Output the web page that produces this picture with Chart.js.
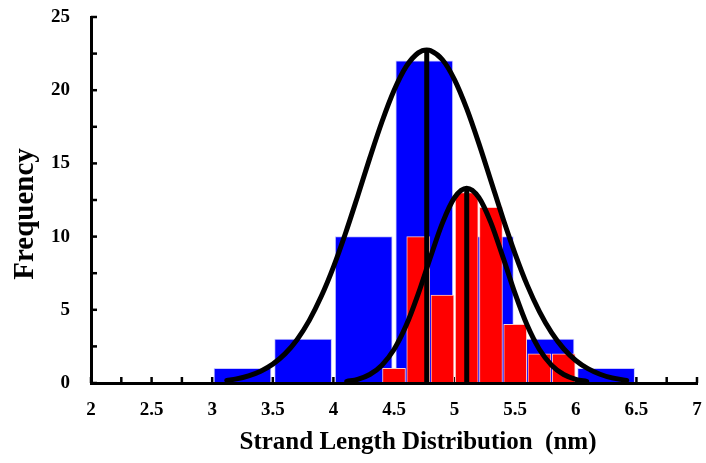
<!DOCTYPE html>
<html><head><meta charset="utf-8">
<script src="https://cdn.jsdelivr.net/npm/chart.js@4/dist/chart.umd.min.js"></script>
<style>html,body{margin:0;padding:0;background:#fff;}canvas{display:block;}</style>
</head><body>
<canvas id="c" width="706" height="463"></canvas>
<script>
// Histogram 1 (blue): bin centres and counts
const blueCenters = [3.25, 3.75, 4.25, 4.75, 5.25, 5.75, 6.25];
const blueCounts  = [1, 3, 10, 22, 10, 3, 1];
// Histogram 2 (red): bin centres and counts
const redCenters = [4.5, 4.7, 4.9, 5.1, 5.3, 5.5, 5.7, 5.9];
const redCounts  = [1, 10, 6, 13, 12, 4, 2, 2];
// Fitted curve 1
const blueFitX = [3.12,3.2,3.3,3.4,3.5,3.6,3.7,3.8,3.9,4.0,4.1,4.2,4.3,4.4,4.5,4.6,4.7,4.77,4.8,4.9,5.0,5.1,5.2,5.3,5.4,5.5,5.6,5.7,5.8,5.9,6.0,6.1,6.2,6.3,6.42];
const blueFitY = [0.18,0.28,0.49,0.81,1.29,1.99,2.96,4.26,5.92,7.92,10.23,12.76,15.36,17.83,19.98,21.61,22.55,22.75,22.71,22.08,20.71,18.74,16.37,13.80,11.22,8.81,6.67,4.88,3.44,2.34,1.54,0.98,0.60,0.35,0.18];
// Fitted curve 2
const redFitX = [4.11,4.2,4.3,4.4,4.5,4.6,4.7,4.8,4.9,5.0,5.1,5.2,5.3,5.4,5.5,5.6,5.7,5.8,5.9,6.0,6.09];
const redFitY = [0.11,0.25,0.58,1.22,2.29,3.92,6.09,8.57,10.94,12.67,13.3,12.67,10.94,8.57,6.09,3.92,2.29,1.22,0.58,0.25,0.11];
// Mean markers (x, peak height)
const meanLineX = [4.77, 5.10];
const meanLineTop = [22.75, 13.3];
// Axis ranges and texts
const xMin = 2, xMax = 7, xMinorStep = 0.25, xLabelStep = 0.5;
const yMin = 0, yMax = 25, yMinorStep = 2.5, yLabelStep = 5;
const xTitle = 'Strand Length Distribution  (nm)';
const yTitle = 'Frequency';

const FONT = '"Liberation Serif", "Times New Roman", serif';

const pts = (xs, ys) => xs.map((x, i) => ({x: x, y: ys[i]}));

const decor = {
  id: 'decor',
  beforeDatasetsDraw(chart) {
    const {ctx, scales: {x, y}, chartArea: ca} = chart;
    ctx.save();
    ctx.strokeStyle = '#000';
    ctx.lineWidth = 2.5;
    x.ticks.forEach(t => {
      const px = x.getPixelForValue(t.value);
      ctx.beginPath(); ctx.moveTo(px, ca.bottom); ctx.lineTo(px, ca.bottom - 6); ctx.stroke();
    });
    y.ticks.forEach(t => {
      const py = y.getPixelForValue(t.value);
      ctx.beginPath(); ctx.moveTo(ca.left, py); ctx.lineTo(ca.left + 6, py); ctx.stroke();
    });
    ctx.restore();
  },
  afterDraw(chart) {
    const {ctx} = chart;
    ctx.save();
    ctx.fillStyle = '#000';
    ctx.textAlign = 'center';
    ctx.textBaseline = 'middle';
    ctx.font = 'bold 25px ' + FONT;
    ctx.fillText(xTitle, 418, 443);
    ctx.translate(26, 214);
    ctx.rotate(-Math.PI / 2);
    ctx.font = 'bold 29px ' + FONT;
    ctx.fillText(yTitle, 0, 0);
    ctx.restore();
  }
};

const datasets = [
  {type: 'line', data: [{x: meanLineX[0], y: 0}, {x: meanLineX[0], y: meanLineTop[0]}], borderColor: '#000', borderWidth: 5, pointRadius: 0, borderCapStyle: 'butt', order: 0},
  {type: 'line', data: [{x: meanLineX[1], y: 0}, {x: meanLineX[1], y: meanLineTop[1]}], borderColor: '#000', borderWidth: 5, pointRadius: 0, borderCapStyle: 'butt', order: 0},
  {type: 'line', data: pts(blueFitX, blueFitY), borderColor: '#000', borderWidth: 5, pointRadius: 0, cubicInterpolationMode: 'monotone', borderCapStyle: 'round', borderJoinStyle: 'round', order: 1},
  {type: 'line', data: pts(redFitX, redFitY), borderColor: '#000', borderWidth: 5, pointRadius: 0, cubicInterpolationMode: 'monotone', borderCapStyle: 'round', borderJoinStyle: 'round', order: 1},
  {type: 'bar', data: pts(redCenters, redCounts), backgroundColor: '#ff0000', borderColor: '#ffc8c8', borderWidth: 1, barThickness: 23, grouped: false, order: 2},
  {type: 'bar', data: pts(blueCenters, blueCounts), backgroundColor: '#0000ff', borderColor: '#c8c8ff', borderWidth: 1, barThickness: 57, grouped: false, order: 3}
];

new Chart(document.getElementById('c'), {
  type: 'bar',
  data: {datasets: datasets},
  plugins: [decor],
  options: {
    responsive: false,
    maintainAspectRatio: false,
    devicePixelRatio: 1,
    animation: false,
    layout: {padding: {top: 17, right: 9, left: 0, bottom: 0}},
    plugins: {legend: {display: false}, tooltip: {enabled: false}},
    scales: {
      x: {
        type: 'linear', min: xMin, max: xMax, offset: false,
        grid: {display: false, drawTicks: false},
        border: {display: true, color: '#000', width: 3, z: 1},
        afterFit: s => { s.height = 80; s.paddingLeft = 0; s.paddingRight = 0; },
        ticks: {
          stepSize: xMinorStep, autoSkip: false, maxRotation: 0, padding: 16,
          color: '#000', font: {family: FONT, size: 19, weight: 'bold'},
          callback: v => (Math.abs(v / xLabelStep - Math.round(v / xLabelStep)) < 1e-6 ? String(v) : '')
        }
      },
      y: {
        type: 'linear', min: yMin, max: yMax,
        grid: {display: false, drawTicks: false},
        border: {display: true, color: '#000', width: 3, z: 1},
        afterFit: s => { s.width = 91; s.paddingTop = 0; s.paddingBottom = 0; },
        ticks: {
          stepSize: yMinorStep, autoSkip: false, padding: 21,
          color: '#000', font: {family: FONT, size: 19, weight: 'bold'},
          callback: v => (Math.abs(v / yLabelStep - Math.round(v / yLabelStep)) < 1e-6 ? String(v) : '')
        }
      }
    }
  }
});
</script>
</body></html>
